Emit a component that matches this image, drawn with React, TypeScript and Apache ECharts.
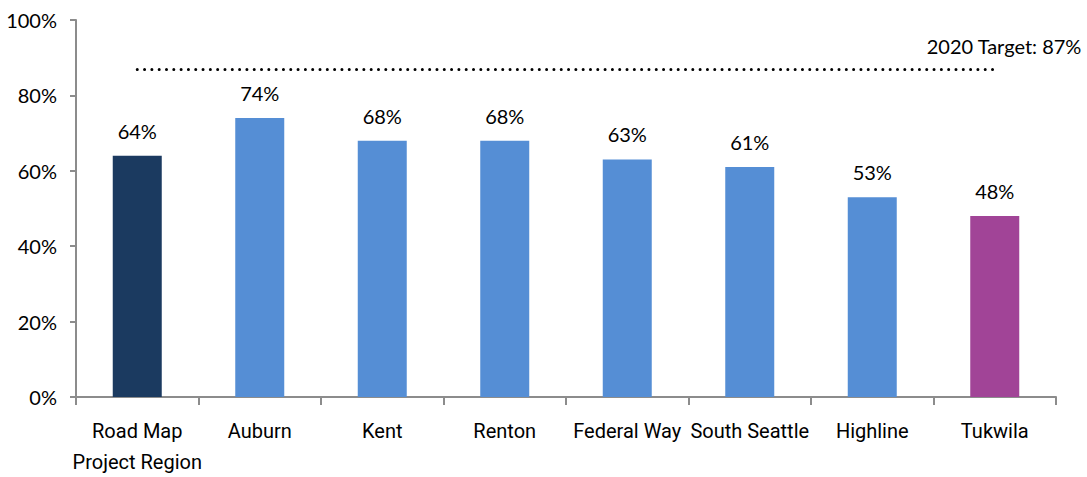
import React, { useEffect, useRef } from "react";
import * as echarts from "echarts";

const categories = ["Road Map\nProject Region", "Auburn", "Kent", "Renton", "Federal Way", "South Seattle", "Highline", "Tukwila"];
const values = [64, 74, 68, 68, 63, 61, 53, 48];
const barColors = ["#1B3A60", "#558ED5", "#558ED5", "#558ED5", "#558ED5", "#558ED5", "#558ED5", "#A14497"];
const targetValue = 87;
const targetLabel = "2020 Target: 87%";
const yTicks = [0, 20, 40, 60, 80, 100];

export default function App() {
  const ref = useRef<HTMLDivElement>(null);
  useEffect(() => {
    if (!ref.current) return;
    const chart = echarts.init(ref.current, undefined, { renderer: "svg" });
    chart.setOption({
      animation: false,
      grid: { left: 76, right: 31, top: 20, bottom: 80 },
      xAxis: {
        type: "category",
        data: categories,
        axisLine: { lineStyle: { color: "#8C8C8C", width: 2 } },
        axisTick: { show: true, length: 8, lineStyle: { color: "#8C8C8C", width: 2 } },
        axisLabel: {
          color: "#000",
          fontFamily: "Roboto, sans-serif",
          fontSize: 20,
          lineHeight: 31,
          margin: 18,
          interval: 0,
        },
      },
      yAxis: {
        type: "value",
        min: yTicks[0],
        max: yTicks[yTicks.length - 1],
        interval: 20,
        splitLine: { show: false },
        axisLine: { show: true, lineStyle: { color: "#8C8C8C", width: 2 } },
        axisTick: { show: true, length: 6, lineStyle: { color: "#8C8C8C", width: 2 } },
        axisLabel: {
          color: "#000",
          fontFamily: "Lato, sans-serif",
          fontSize: 20,
          margin: 19,
          formatter: (v: number) => v + "%",
        },
      },
      series: [
        {
          type: "bar",
          barWidth: "40%",
          data: values.map((v, i) => ({ value: v, itemStyle: { color: barColors[i] } })),
          label: {
            show: true,
            position: "top",
            distance: 15,
            color: "#000",
            fontFamily: "Lato, sans-serif",
            fontSize: 20,
            formatter: (p: any) => p.value + "%",
          },
          markLine: {
            silent: true,
            symbol: "none",
            label: { show: false },
            lineStyle: { color: "#000", width: 3, type: [0.01, 7.3], cap: "round" },
            data: [[{ coord: [0, targetValue] }, { coord: [7, targetValue] }]],
          },
        },
      ],
      graphic: [
        {
          type: "text",
          right: 5,
          top: 36,
          style: {
            text: targetLabel,
            fill: "#000",
            font: "20px Lato, sans-serif",
          },
        },
      ],
    });
    return () => chart.dispose();
  }, []);
  return <div ref={ref} style={{ position: "absolute", left: 0, top: 0, width: 1087, height: 477 }} />;
}
